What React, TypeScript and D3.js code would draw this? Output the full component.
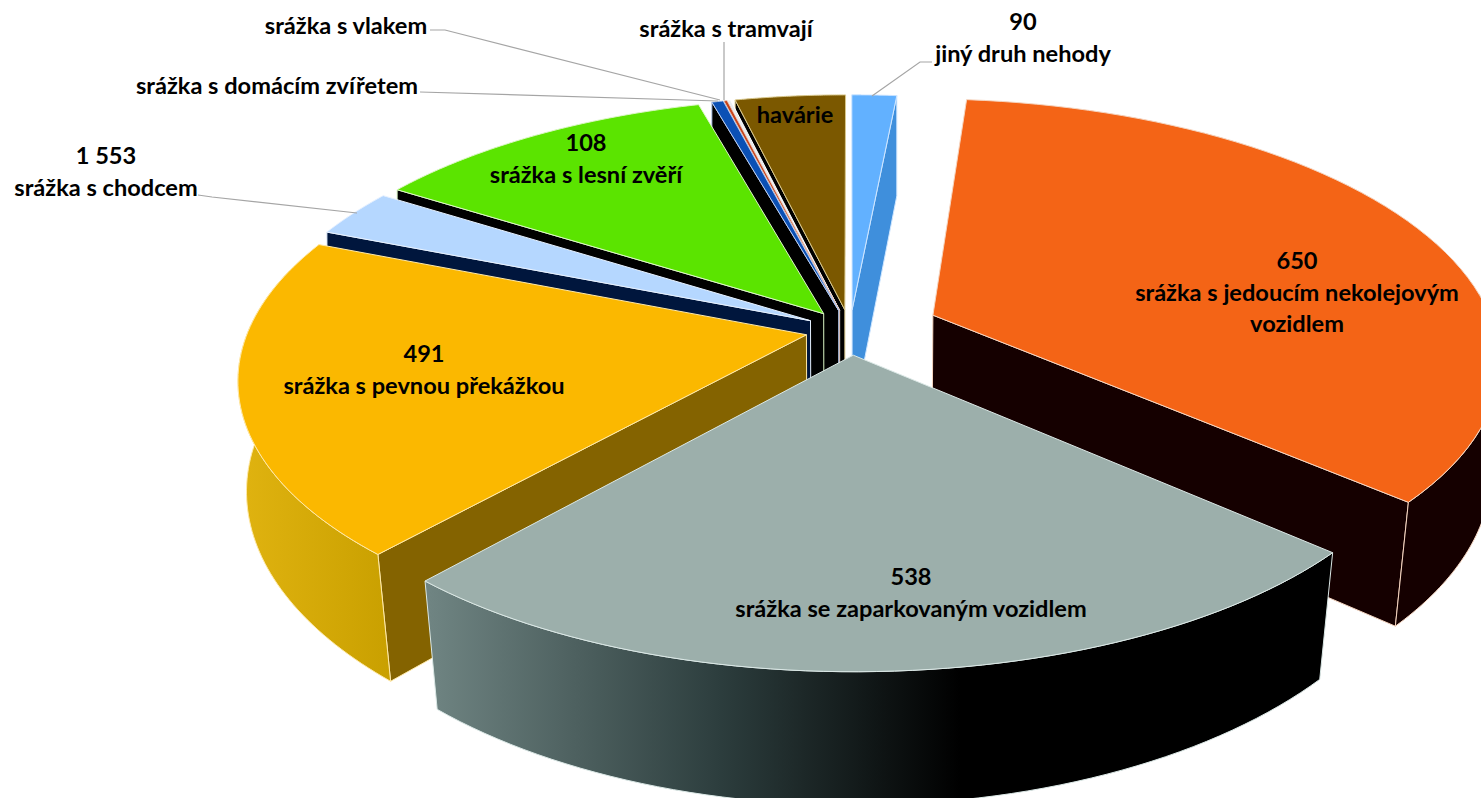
import React from "react";
import * as d3 from "d3";

// Angular shares (degrees of the circle), clockwise from 12 o'clock
const categories = ["jiný druh nehody","srážka s jedoucím nekolejovým vozidlem","srážka se zaparkovaným vozidlem","srážka s pevnou překážkou","srážka s chodcem","srážka s lesní zvěří","srážka s domácím zvířetem","srážka s vlakem","srážka s tramvají","havárie"];
const shares = [5.4, 126.3, 89.8, 70.3, 10.7, 41.9, 1.4, 0.4, 0.4, 13.4];
const explode = [0.08, 0.16, 0.097, 0.08, 0.08, 0.08, 0.08, 0.08, 0.08, 0.08];
const topColors = ["#62b1ff","#f46416","#9cafab","#fbb800","#b5d7ff","#5be400","#0b50b5","#c8421a","#e8ecf0","#7b5800"];
const cutColors = ["#3f8fdc","#150000","#000000","#846300","#00163d","#000000","#000000","#000000","#000000","#000000"];
const edgeColors = ["#cfe6ff","#f5d5c0","#dbe8e6","#ffe9a8","#e6f1ff","#dcf7c6","#b9cdf0","#e8c0b0","#ffffff","#d9c88c"];

const labelLines = [
  ["90","jiný druh nehody"],
  ["650","srážka s jedoucím nekolejovým","vozidlem"],
  ["538","srážka se zaparkovaným vozidlem"],
  ["491","srážka s pevnou překážkou"],
  ["1 553","srážka s chodcem"],
  ["108","srážka s lesní zvěří"],
  ["srážka s domácím zvířetem"],
  ["srážka s vlakem"],
  ["srážka s tramvají"],
  ["havárie"],
];
const labelAnchors: [number, number][] = [[1023,22],[1297,261],[911,577],[424,354],[106,156],[586,143],[277,86],[346,26],[726,29],[795,115]];
const leaders: [number, number][][] = [
  [[932,62],[920,62],[872,96]],
  [[198,195],[212,197],[357,213]],
  [[420,92],[718,101]],
  [[430,30],[445,30],[720,100]],
  [[724,42],[724,100]],
];

const W = 1481, H = 798;
const cx = 850, cy = 330;
const depth = 6.15, thick = 114;
const xS = d3.scaleLinear().domain([-1, 0, 1]).range([cx - 558, cx, cx + 562]);
const yS = d3.scaleLinear().domain([-1, 1]).range([cy - 256, cy + 256]);

const arcs = d3.pie<number>().sort(null).startAngle(0).endAngle(2 * Math.PI)(shares);

function project(theta: number, r: number, z: number, e: number, phi: number): [number, number] {
  const u = r * Math.sin(theta) + e * Math.sin(phi);
  const v = -r * Math.cos(theta) - e * Math.cos(phi);
  const k = depth / (depth - v);
  const s = 1 - z * Math.max(0, 0.01 + 0.022 * v);
  return [cx + (xS(u) - cx) * k * s, cy + (yS(v) - cy) * k + thick * z * Math.pow(k, 0.8)];
}
const line = d3.line();
const rad = (d: number) => (d * Math.PI) / 180;

export default function App() {
  const slices = arcs.map((a, i) => {
    const phi = (a.startAngle + a.endAngle) / 2;
    const e = explode[i];
    const sampled = (from: number, to: number) => d3.range(0, 61).map((t) => from + ((to - from) * t) / 60);
    const thetas = sampled(a.startAngle, a.endAngle);
    const rim = (z: number) => thetas.map((t) => project(t, 1, z, e, phi));
    const apex = (z: number) => project(0, 0, z, e, phi);
    const top = line([apex(0), ...rim(0)]) + "Z";
    const wFrom = Math.max(a.startAngle, rad(85));
    const wTo = Math.min(a.endAngle, rad(285));
    const wallThetas = sampled(wFrom, wTo);
    const wall = wTo > wFrom
      ? line([
          ...wallThetas.map((t) => project(t, 1, 0, e, phi)),
          ...wallThetas.map((t) => project(t, 1, 1, e, phi)).reverse(),
        ]) + "Z"
      : null;
    const cutA = Math.sin(a.startAngle) < 0 ? line([apex(0), rim(0)[0], rim(1)[0], apex(1)]) + "Z" : null;
    const cutB = Math.sin(a.endAngle) > 0 ? line([apex(0), rim(0)[60], rim(1)[60], apex(1)]) + "Z" : null;
    return { i, top, wall, cutA, cutB, order: -Math.cos(phi), phi };
  });
  const order = [...slices].sort((a, b) => a.order - b.order);
  const wallFill = (i: number) => i === 2 ? "url(#grayRim)" : i === 3 ? "url(#yellowRim)" : cutColors[i];
  return (
    <svg width={W} height={H} style={{ position: "fixed", left: 0, top: 0, background: "#fff" }} fontFamily="Lato, 'Open Sans', sans-serif" fontWeight={700}>
      <defs>
        <linearGradient id="grayRim" gradientUnits="userSpaceOnUse" x1={430} x2={960} y1={0} y2={0}>
          <stop offset="0" stopColor="#6f8482" />
          <stop offset="0.55" stopColor="#2c3d3d" />
          <stop offset="1" stopColor="#000000" />
        </linearGradient>
        <linearGradient id="yellowRim" gradientUnits="userSpaceOnUse" x1={240} x2={390} y1={0} y2={0}>
          <stop offset="0" stopColor="#e0b310" />
          <stop offset="1" stopColor="#c9a000" />
        </linearGradient>
      </defs>
      {order.map((s) => (
        <g key={categories[s.i]} stroke={edgeColors[s.i]} strokeWidth={1} strokeLinejoin="round">
          {s.cutA && <path d={s.cutA} fill={cutColors[s.i]} />}
          {s.cutB && <path d={s.cutB} fill={cutColors[s.i]} />}
          {s.wall && <path d={s.wall} fill={wallFill(s.i)} />}
          <path d={s.top} fill={topColors[s.i]} />
        </g>
      ))}
      {leaders.map((p, i) => (
        <path key={i} d={line(p) as string} fill="none" stroke="#a5a5a5" strokeWidth={1.2} />
      ))}
      {labelLines.map((lines, i) => (
        <text key={i} fontSize={23.6} textAnchor="middle" fill="#000">
          {lines.map((t, j) => (
            <tspan key={j} x={labelAnchors[i][0]} y={labelAnchors[i][1] + 8 + j * 31.5}>{t}</tspan>
          ))}
        </text>
      ))}
    </svg>
  );
}
